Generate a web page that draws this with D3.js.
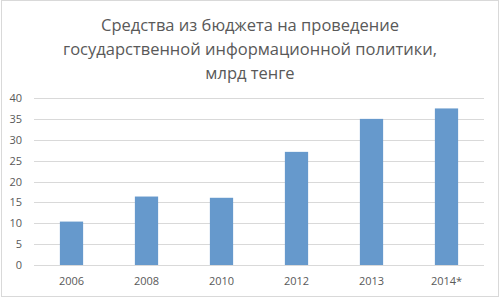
<!DOCTYPE html>
<html>
<head>
<meta charset="utf-8">
<script src="https://cdn.jsdelivr.net/npm/d3@7"></script>
<style>
  body { margin: 0; background: #fff; }
  text { font-family: "Open Sans", "Noto Sans", sans-serif; fill: #595959; }
</style>
</head>
<body>
<div id="canvas"></div>
<script>
// data
var years = ['2006', '2008', '2010', '2012', '2013', '2014*'];
var values = [10.4, 16.4, 16.1, 27.1, 35.0, 37.5];
var yTicks = [0, 5, 10, 15, 20, 25, 30, 35, 40];
var titleLines = ['Средства из бюджета на проведение',
                  'государственной информационной политики,',
                  'млрд тенге'];

var width = 500, height = 298;
var plotLeft = 34, plotRight = 484, plotTop = 98, plotBottom = 265;

var svg = d3.select('#canvas')
    .append('svg')
    .attr('width', width)
    .attr('height', height);

// outer border
svg.append('rect')
    .attr('x', 1.5).attr('y', 0.5)
    .attr('width', width - 3).attr('height', height - 2)
    .attr('fill', 'white')
    .attr('stroke', '#d9d9d9');

// title
svg.selectAll('.title')
    .data(titleLines)
    .enter()
    .append('text')
    .attr('class', 'title')
    .attr('x', 250)
    .attr('y', function(d, i) { return 31 + i * 24; })
    .attr('text-anchor', 'middle')
    .style('font-size', '16.5px')
    .text(function(d) { return d; });

var x = d3.scaleBand()
    .domain(years)
    .range([plotLeft, plotRight])
    .paddingInner(0.69)
    .paddingOuter(0.345);

var y = d3.scaleLinear()
    .domain([0, 40])
    .range([plotBottom, plotTop]);

// gridlines
svg.selectAll('.grid')
    .data(yTicks)
    .enter()
    .append('line')
    .attr('class', 'grid')
    .attr('x1', plotLeft).attr('x2', plotRight)
    .attr('y1', function(d) { return Math.round(y(d)) + 0.5; })
    .attr('y2', function(d) { return Math.round(y(d)) + 0.5; })
    .attr('stroke', '#d9d9d9');

// y axis labels
var yAxis = d3.axisLeft(y).tickValues(yTicks).tickSize(0).tickPadding(0);
var gy = svg.append('g')
    .attr('transform', 'translate(22,0)')
    .call(yAxis);
gy.select('.domain').remove();
gy.selectAll('text').style('font-size', '11px').attr('fill', '#595959');

// bars
svg.selectAll('.bar')
    .data(values)
    .enter()
    .append('rect')
    .attr('class', 'bar')
    .attr('x', function(d, i) { return x(years[i]); })
    .attr('y', function(d) { return y(d); })
    .attr('width', x.bandwidth())
    .attr('height', function(d) { return y(0) - y(d); })
    .attr('fill', '#6699cc');

// x axis labels
var xAxis = d3.axisBottom(x).tickSize(0).tickPadding(0);
var gx = svg.append('g')
    .attr('transform', 'translate(0,' + (plotBottom + 12) + ')')
    .call(xAxis);
gx.select('.domain').remove();
gx.selectAll('text').style('font-size', '11px').attr('fill', '#595959');
</script>
</body>
</html>
